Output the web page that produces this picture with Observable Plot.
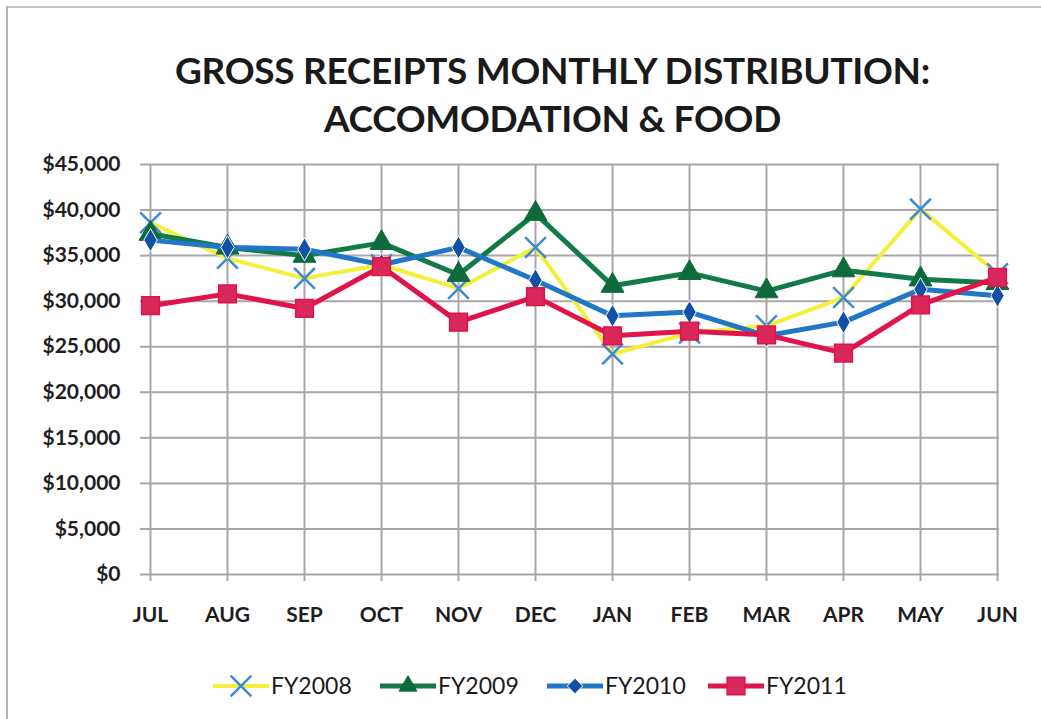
<!DOCTYPE html>
<html>
<head>
<meta charset="utf-8">
<script src="https://cdn.jsdelivr.net/npm/d3@7"></script>
<script src="https://cdn.jsdelivr.net/npm/@observablehq/plot@0.6"></script>
<style>
  html, body { margin: 0; padding: 0; background: #fff; }
  #frame { position: relative; width: 1041px; height: 719px; overflow: hidden; background: #fff; }
  #border { position: absolute; left: 6px; top: 6px; right: 0; bottom: 0; border-left: 2px solid #b3b3b3; border-top: 2px solid #c4c4c4; }
  #title { position: absolute; left: 32px; top: 46px; width: 1041px; text-align: center; font-family: Lato, "Open Sans", sans-serif; font-weight: 700; font-size: 37px; line-height: 48px; color: #1a1a1a; letter-spacing: -0.3px; }
  #chart { position: absolute; left: 0; top: 145px; }
  #legend { position: absolute; left: 0; top: 670px; width: 1041px; height: 36px; }
</style>
</head>
<body>
<div id="frame">
  <div id="border"></div>
  <div id="title">GROSS RECEIPTS MONTHLY DISTRIBUTION:<br>ACCOMODATION &amp; FOOD</div>
  <div id="chart"></div>
  <div id="legend"></div>
</div>
<script>
const months = ["JUL","AUG","SEP","OCT","NOV","DEC","JAN","FEB","MAR","APR","MAY","JUN"];
const seriesNames = ["FY2008","FY2009","FY2010","FY2011"];
const fy2008 = [38600, 34700, 32500, 34000, 31400, 35900, 24200, 26500, 27300, 30400, 40100, 33000];
const fy2009 = [37400, 35900, 35000, 36400, 32900, 39600, 31700, 33100, 31100, 33400, 32400, 32000];
const fy2010 = [36700, 35900, 35700, 34000, 35900, 32300, 28400, 28800, 26200, 27700, 31300, 30600];
const fy2011 = [29500, 30800, 29200, 33800, 27700, 30500, 26200, 26700, 26300, 24300, 29600, 32600];
const yTicks = [0, 5000, 10000, 15000, 20000, 25000, 30000, 35000, 40000, 45000];

const values = [fy2008, fy2009, fy2010, fy2011];
const rows = [];
seriesNames.forEach((s, i) => months.forEach((m, j) => rows.push({series: s, month: m, value: values[i][j]})));
const of = s => rows.filter(d => d.series === s);

const style = {
  FY2008: {line: "#f3ef3a", lw: 4, symbol: "times", fill: "none", stroke: "#3d8bd3", r: 9.5, sw: 2.5},
  FY2009: {line: "#127a47", lw: 5, symbol: "triangle", fill: "#0d6a3b", stroke: "#0d6a3b", r: 8.5, sw: 1},
  FY2010: {line: "#1f77c6", lw: 5, symbol: "diamond", fill: "#1250a6", stroke: "#ffffff", r: 7, sw: 1},
  FY2011: {line: "#e0134b", lw: 5, symbol: "square", fill: "#d8285a", stroke: "#e0134b", r: 10, sw: 1.5}
};

const marks = [
  Plot.gridX(months, {x: d => d, stroke: "#aaa5aa", strokeOpacity: 1, strokeWidth: 2}),
  Plot.gridY(yTicks, {y: d => d, stroke: "#aaa5aa", strokeOpacity: 1, strokeWidth: 2}),
  Plot.axisY(yTicks, {
    label: null, tickSize: 8, tickPadding: 20, stroke: "#aaa5aa", strokeWidth: 2,
    tickFormat: d => "$" + d3.format(",")(d),
    fontSize: 21, fontWeight: 700, fill: "#1e1e1e", fontFamily: "Lato"
  }),
  Plot.axisX(months, {
    label: null, tickSize: 7, tickPadding: 26, stroke: "#aaa5aa", strokeWidth: 2,
    fontSize: 21, fontWeight: 700, fill: "#1e1e1e", fontFamily: "Lato"
  })
];
seriesNames.forEach(s => {
  const st = style[s];
  marks.push(Plot.line(of(s), {x: "month", y: "value", stroke: st.line, strokeWidth: st.lw, strokeLinejoin: "miter", strokeLinecap: "butt"}));
  marks.push(Plot.dot(of(s), {x: "month", y: "value", symbol: st.symbol, r: st.r, fill: st.fill, stroke: st.stroke, strokeWidth: st.sw}));
});

const chart = Plot.plot({
  width: 1041, height: 495,
  marginTop: 19, marginBottom: 66, marginLeft: 148, marginRight: 42,
  x: {type: "point", domain: months, padding: 0, axis: null, label: null},
  y: {domain: [0, 45000], axis: null, label: null},
  style: {background: "transparent", fontFamily: "Lato"},
  marks
});
document.getElementById("chart").appendChild(chart);

// Legend
const legendPos = {FY2008: 213, FY2009: 380, FY2010: 547, FY2011: 708};
const symbolMap = {times: d3.symbolTimes, triangle: d3.symbolTriangle2, diamond: d3.symbolDiamond2, square: d3.symbolSquare};
const lsvg = d3.select("#legend").append("svg").attr("width", 1041).attr("height", 36);
seriesNames.forEach(s => {
  const st = style[s];
  const x0 = legendPos[s];
  const g = lsvg.append("g").attr("transform", `translate(${x0},16)`);
  g.append("line").attr("x1", 0).attr("x2", 56).attr("y1", 0).attr("y2", 0)
    .attr("stroke", st.line).attr("stroke-width", st.lw);
  g.append("path").attr("transform", "translate(28,0)")
    .attr("d", d3.symbol(symbolMap[st.symbol], Math.PI * st.r * st.r)())
    .attr("fill", st.fill).attr("stroke", st.stroke).attr("stroke-width", st.sw);
  g.append("text").attr("x", 58).attr("y", 0).attr("dy", "0.35em")
    .attr("font-family", "Lato").attr("font-size", 23).attr("fill", "#1a1a1a")
    .text(s);
});
</script>
</body>
</html>
